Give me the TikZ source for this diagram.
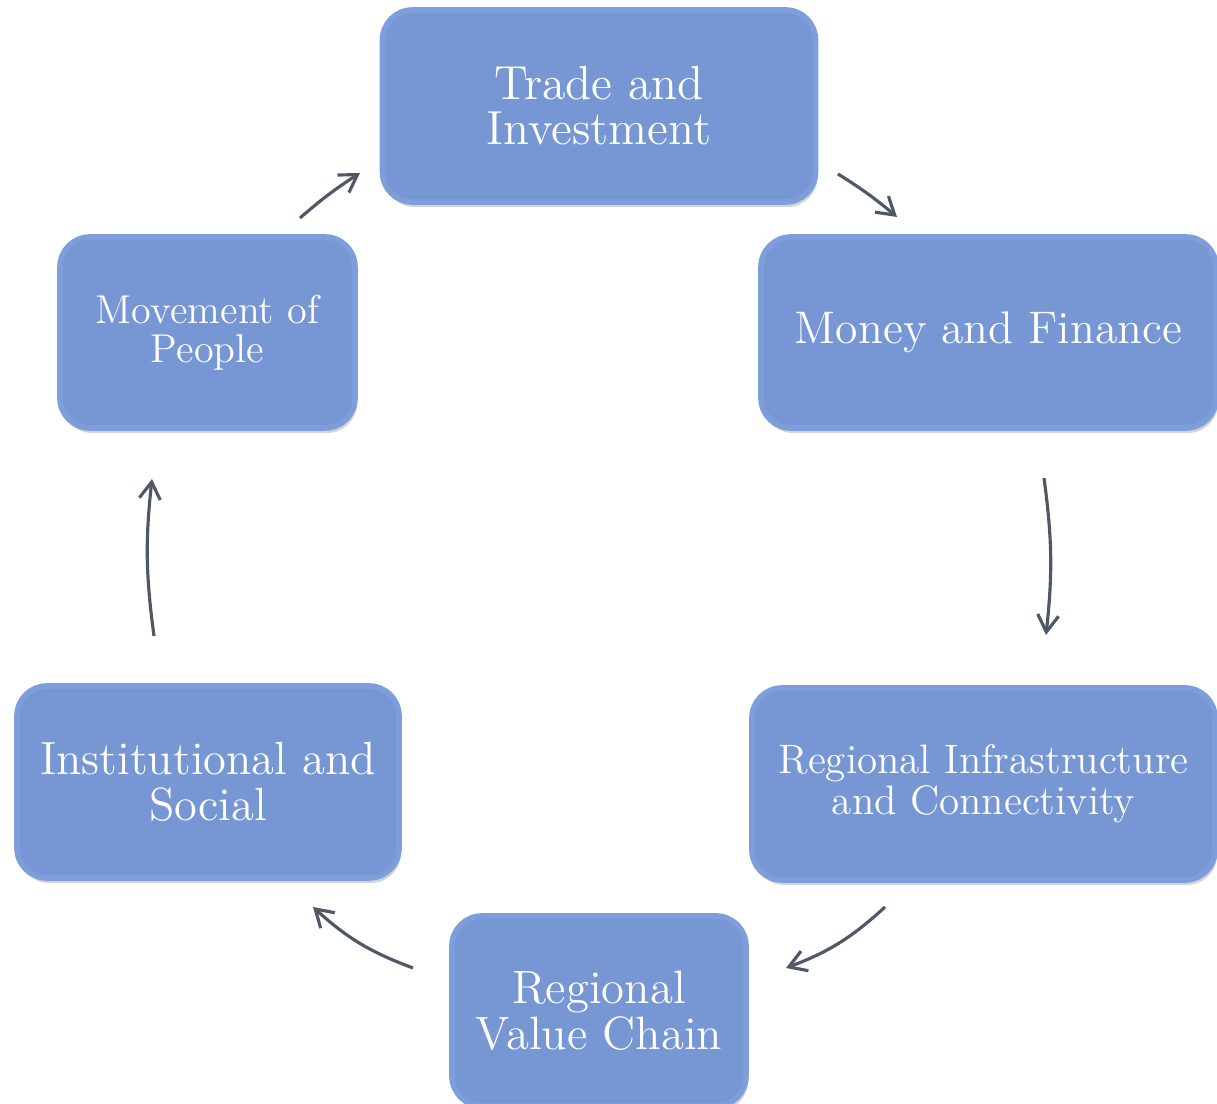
\documentclass[tikz,border=0pt]{standalone}
\usetikzlibrary{arrows.meta,shadows}
\definecolor{boxblue}{HTML}{7797D4}
\definecolor{boxedge}{HTML}{7E9EDB}
\definecolor{arrowgray}{HTML}{505867}
\tikzset{
  pillar/.style={
    shape = rectangle,
    draw = boxedge,
    line width = 1.6pt,
    fill = boxblue,
    rounded corners = 0.3cm,
    text = white,
    align = center,
    inner sep = 0pt,
    drop shadow = {opacity=0.35, shadow xshift=0.02cm, shadow yshift=-0.05cm}
  },
  link/.style={
    draw = arrowgray,
    line width = 0.9pt,
    -{Straight Barb[length=1.7mm, width=2.1mm]}
  }
}

\begin{document}
\begin{tikzpicture}
  \useasboundingbox (0,0) rectangle (12.17,-11.04);
  \clip (0,0) rectangle (12.17,-11.04);

  % the six pillars
  \node[pillar, minimum width=4.33cm, minimum height=1.92cm, font=\fontsize{13.6}{12.9}\selectfont]
    (trade) at (5.99,-1.06) {Trade and\\Investment};
  \node[pillar, minimum width=4.55cm, minimum height=1.91cm, font=\fontsize{13.0}{12.8}\selectfont]
    (money) at (9.885,-3.325) {Money and Finance};
  \node[pillar, minimum width=4.63cm, minimum height=1.92cm, font=\fontsize{11.7}{11.8}\selectfont]
    (infra) at (9.835,-7.84) {Regional Infrastructure\\and Connectivity};
  \node[pillar, minimum width=2.94cm, minimum height=1.90cm, font=\fontsize{13.3}{13.2}\selectfont]
    (value) at (5.99,-10.11) {Regional\\Value Chain};
  \node[pillar, minimum width=3.82cm, minimum height=1.92cm, font=\fontsize{13.25}{13.2}\selectfont]
    (inst) at (2.08,-7.82) {Institutional and\\Social};
  \node[pillar, minimum width=2.95cm, minimum height=1.91cm, font=\fontsize{11.45}{11.1}\selectfont]
    (move) at (2.075,-3.325) {Movement of\\People};

  % arrow ends between the pillars
  \coordinate (move-out)  at (3.00,-2.18);
  \coordinate (trade-in)  at (3.60,-1.73);
  \coordinate (trade-out) at (8.38,-1.74);
  \coordinate (money-in)  at (8.97,-2.17);
  \coordinate (money-out) at (10.44,-4.78);
  \coordinate (infra-in)  at (10.46,-6.35);
  \coordinate (infra-out) at (8.85,-9.07);
  \coordinate (value-in)  at (7.86,-9.68);
  \coordinate (value-out) at (4.13,-9.68);
  \coordinate (inst-in)   at (3.13,-9.07);
  \coordinate (inst-out)  at (1.54,-6.36);
  \coordinate (move-in)   at (1.52,-4.79);

  \draw[link] (move-out)  to[bend left=4]  (trade-in);
  \draw[link] (trade-out) to[bend left=4]  (money-in);
  \draw[link] (money-out) to[bend left=7]  (infra-in);
  \draw[link] (infra-out) to[bend left=11] (value-in);
  \draw[link] (value-out) to[bend left=11] (inst-in);
  \draw[link] (inst-out)  to[bend left=7]  (move-in);
\end{tikzpicture}
\end{document}
